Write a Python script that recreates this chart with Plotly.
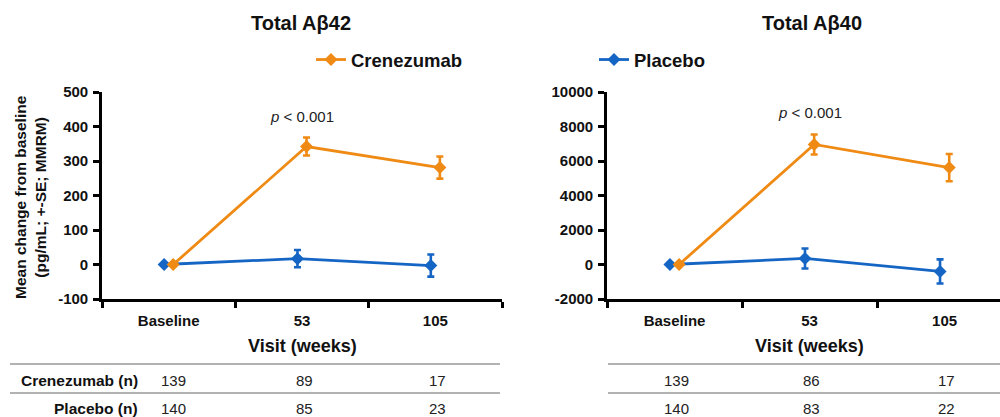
import plotly.graph_objects as go

# Visits and per-arm results (mean change from baseline, +/- SE)
visits = ["Baseline", "53", "105"]

ab42_crenezumab = [0, 342, 281]
ab42_crenezumab_se = [None, 26, 32]
ab42_placebo = [0, 17, -3]
ab42_placebo_se = [None, 25, 32]

ab40_crenezumab = [0, 6960, 5620]
ab40_crenezumab_se = [None, 580, 790]
ab40_placebo = [0, 350, -400]
ab40_placebo_se = [None, 580, 700]

# Patients contributing at each visit
n_ab42_crenezumab = [139, 89, 17]
n_ab42_placebo = [140, 85, 23]
n_ab40_crenezumab = [139, 86, 17]
n_ab40_placebo = [140, 83, 22]

ab42_ticks = [-100, 0, 100, 200, 300, 400, 500]
ab40_ticks = [-2000, 0, 2000, 4000, 6000, 8000, 10000]

ORANGE = "#EF8A14"
BLUE = "#1565C4"
FONT = "Liberation Sans, Arial, sans-serif"
W, H = 1000, 417


def py(px):
    """Convert a pixel row (from top) into paper coordinates."""
    return 1 - px / H


def bold(size):
    return dict(family=FONT, size=size, color="#111", weight="bold")


def plain(size):
    return dict(family=FONT, size=size, color="#222")


fig = go.Figure()


def add_arm(y, se, name, color, xa, ya, legend, show):
    fig.add_trace(go.Scatter(
        x=visits, y=y, name=name, xaxis=xa, yaxis=ya,
        mode="lines+markers",
        line=dict(color=color, width=2.8),
        marker=dict(symbol="diamond", size=10, color=color),
        error_y=dict(type="data", array=se, visible=True, color=color,
                     thickness=2.6, width=3.5),
        offsetgroup=name, legend=legend, showlegend=show,
    ))


# Placebo first so it sits on the left of each visit group
add_arm(ab42_placebo, ab42_placebo_se, "Placebo", BLUE, "x", "y", "legend2", True)
add_arm(ab42_crenezumab, ab42_crenezumab_se, "Crenezumab", ORANGE, "x", "y", "legend", True)
add_arm(ab40_placebo, ab40_placebo_se, "Placebo", BLUE, "x2", "y2", "legend2", False)
add_arm(ab40_crenezumab, ab40_crenezumab_se, "Crenezumab", ORANGE, "x2", "y2", "legend", False)

axis_common = dict(
    showline=True, linecolor="black", linewidth=2.6,
    ticks="outside", ticklen=6, tickwidth=2.6, tickcolor="black",
    showgrid=False, zeroline=False, automargin=False,
    tickfont=bold(15),
)

y_dom = [py(299), py(92)]

fig.update_layout(
    template="none",
    width=W, height=H, autosize=False,
    margin=dict(l=0, r=0, t=0, b=0, pad=0, autoexpand=False),
    paper_bgcolor="white", plot_bgcolor="white",
    scattermode="group", scattergap=0.864,
    font=dict(family=FONT, color="#111"),
    xaxis=dict(domain=[0.102, 0.502], type="category", range=[-0.5, 2.5],
               tickson="boundaries", anchor="y", ticklabelstandoff=6, **axis_common),
    yaxis=dict(domain=y_dom, range=[-100, 500], anchor="x",
               tickvals=ab42_ticks, ticktext=[str(v) for v in ab42_ticks],
               ticklabelstandoff=2, **axis_common),
    xaxis2=dict(domain=[0.607, 1.0], type="category", range=[-0.5, 2.41],
                tickson="boundaries", anchor="y2", ticklabelstandoff=6, **axis_common),
    yaxis2=dict(domain=y_dom, range=[-2000, 10000], anchor="x2",
                tickvals=ab40_ticks, ticktext=[str(v) for v in ab40_ticks],
                ticklabelstandoff=2, **axis_common),
    legend=dict(x=0.311, y=py(60), xanchor="left", yanchor="middle",
                orientation="h", bgcolor="rgba(0,0,0,0)", font=bold(18.5)),
    legend2=dict(x=0.594, y=py(60), xanchor="left", yanchor="middle",
                 orientation="h", bgcolor="rgba(0,0,0,0)", font=bold(18.5)),
)


def note(text, x, ypx, font, xref="paper", xanchor="center", **kw):
    return dict(text=text, x=x, xref=xref, y=py(ypx), yref="paper",
                xanchor=xanchor, yanchor="middle", showarrow=False, font=font, **kw)


ann = []
# Panel titles
ann.append(note("Total Aβ42", 0.301, 23, bold(20)))
ann.append(note("Total Aβ40", 0.812, 23, bold(20)))
# Significance labels above week 53
ann.append(note("<i>p</i> < 0.001", 1, 116, plain(15), xref="x"))
ann.append(note("<i>p</i> < 0.001", 1, 113, plain(15), xref="x2"))
# Y-axis title
ann.append(note("Mean change from baseline<br>(pg/mL; +-SE; MMRM)", 0.031, 197,
                bold(15.5), textangle=-90))
# X-axis titles
for xa in ("x", "x2"):
    ann.append(note("Visit (weeks)", 1, 346, bold(18), xref=xa))

# Patient count table
ann.append(note("Crenezumab (n)", 0.140, 380, bold(15.5), xanchor="right"))
ann.append(note("Placebo (n)", 0.140, 408, bold(15.5), xanchor="right"))
for xa, rows in (("x", (n_ab42_crenezumab, n_ab42_placebo)),
                 ("x2", (n_ab40_crenezumab, n_ab40_placebo))):
    for row, ypx in zip(rows, (380, 408)):
        for i, n in enumerate(row):
            ann.append(note(str(n), i, ypx, plain(15), xref=xa,
                            xshift=5 if (i == 0 and xa == "x") else 2))

fig.update_layout(annotations=ann)

shapes = []
for ypx in (364, 393):
    for x0, x1 in ((0.010, 0.500), (0.608, 1.0)):
        shapes.append(dict(type="line", xref="paper", yref="paper",
                           x0=x0, x1=x1, y0=py(ypx), y1=py(ypx),
                           line=dict(color="#999", width=1.3)))
fig.update_layout(shapes=shapes)

fig.write_html("out.html")
